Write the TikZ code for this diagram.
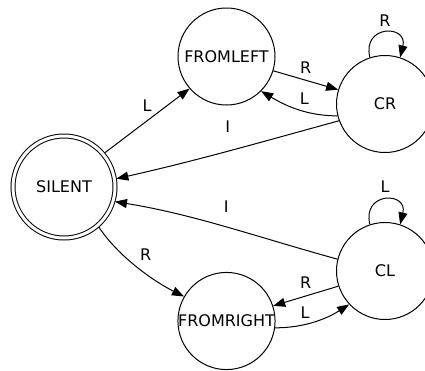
\documentclass[tikz,border=0pt]{standalone}
\usepackage{fontspec}
\setmainfont{DejaVu Sans}
\usetikzlibrary{arrows.meta}

\begin{document}
\begin{tikzpicture}[x=1pt,y=-1pt,
                state/.style={draw,circle,minimum size=97pt,inner sep=0pt,line width=1pt,font=\fontsize{16}{19}\selectfont},
                accept/.style={state,minimum size=102pt,double,double distance=3pt,outer sep=2pt},
                trans/.style={line width=1pt,-{Triangle[length=12pt,width=9pt]}},
                lbl/.style={font=\fontsize{16}{19}\selectfont,inner sep=0pt}]
                \useasboundingbox (0,0) rectangle (425,370);

                \node[accept] (silent) at (64,187) {SILENT};
                \node[state] (fromleft) at (226.5,56.5) {FROMLEFT};
                \node[state] (cr) at (385,104) {CR};
                \node[state] (cl) at (385,271) {CL};
                \node[state] (fromright) at (226.5,321) {FROMRIGHT};

                \draw[trans] (silent.40) -- (fromleft.221) node[lbl,midway,yshift=15.5pt] {L};
                \draw[trans] (fromleft.-17) -- (cr.163) node[lbl,midway,yshift=13pt] {R};
                \draw[trans] (cr.194) .. controls +(-30,0) and +(25,15) .. (fromleft.315) node[lbl,midway,xshift=7pt,yshift=10pt] {L};
                \draw[trans] (cr.108) .. controls +(-8,-33) and +(8,-33) .. (cr.72) node[lbl,midway,yshift=12pt] {R};
                \draw[trans] (cr.200) .. controls +(-80,22) and +(80,-18) .. (silent.9) node[lbl,midway,yshift=25pt] {I};

                \draw[trans] (silent.-49) .. controls +(20,30) and +(-30,-15) .. (fromright.150) node[lbl,midway,xshift=8pt,yshift=13pt] {R};
                \draw[trans] (fromright.-8) .. controls +(30,0) and +(-22,14) .. (cl.223) node[lbl,midway,xshift=-10pt,yshift=9pt] {L};
                \draw[trans] (cl.198) -- (fromright.18) node[lbl,midway,yshift=13.5pt] {R};
                \draw[trans] (cl.108) .. controls +(-8,-33) and +(8,-33) .. (cl.72) node[lbl,midway,yshift=13pt] {L};
                \draw[trans] (cl.166) .. controls +(-80,-22) and +(80,13) .. (silent.-16) node[lbl,midway,yshift=20pt] {I};
            \end{tikzpicture}
\end{document}
